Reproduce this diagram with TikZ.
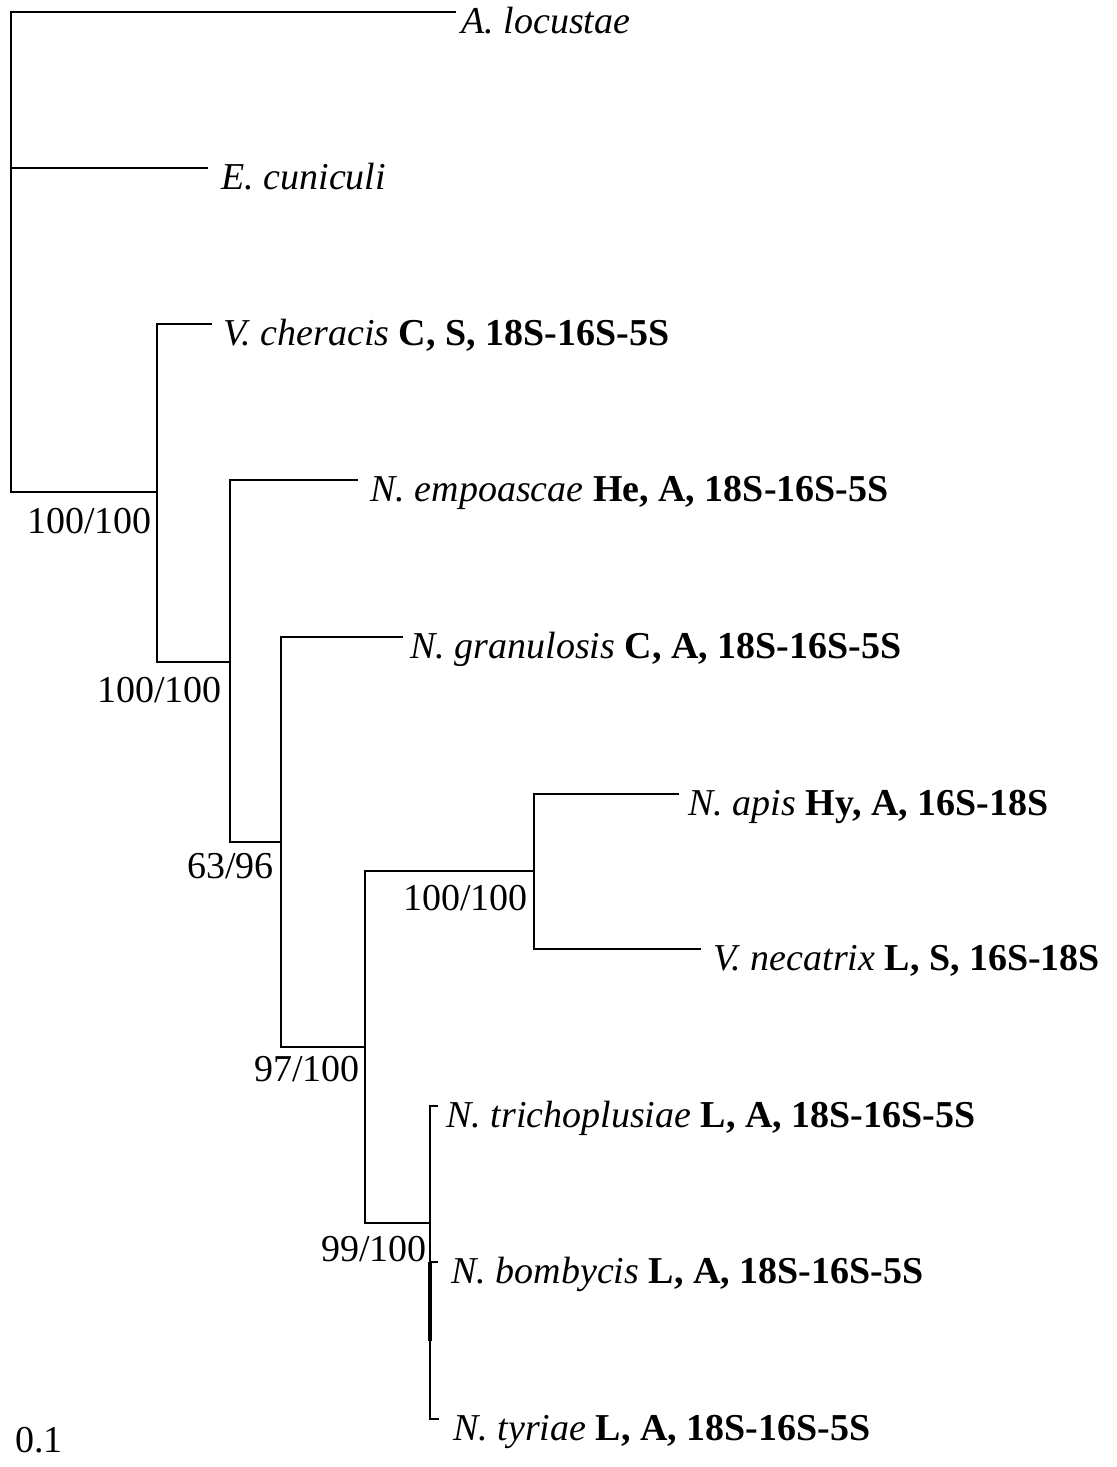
\documentclass[tikz,border=0pt]{standalone}
\usepackage{fontspec}
\setmainfont{Liberation Serif}
\begin{document}
\begin{tikzpicture}[x=0.5pt,y=-0.5pt,
  branch/.style={line width=1pt, line cap=rect},
  leaf/.style={anchor=base west, inner sep=0pt, font=\fontsize{19}{22}\selectfont},
  support/.style={anchor=base east, inner sep=0pt, font=\fontsize{19}{22}\selectfont}]
\useasboundingbox (0,0) rectangle (1117,1467);
% internal nodes
\coordinate (r) at (11,492);
\coordinate (n1) at (157,492);
\coordinate (n2) at (230,662);
\coordinate (n3) at (281,842);
\coordinate (n4) at (365,1047);
\coordinate (n5) at (534,871);
\coordinate (n6) at (430,1223);
% tips
\coordinate (tA) at (455,12);
\coordinate (tE) at (207,168);
\coordinate (tV) at (211,324);
\coordinate (tNe) at (357,480);
\coordinate (tNg) at (402,637);
\coordinate (tAp) at (678,794);
\coordinate (tNc) at (700,949);
\coordinate (tTr) at (437,1106);
\coordinate (tBo) at (437,1262);
\coordinate (bEnd) at (430,1341);
\coordinate (tTy) at (438,1419);
% branches
\draw[branch] (tA) -| (r) -- (n1);
\draw[branch] (r |- tE) -- (tE);
\draw[branch] (tV) -| (n1 |- n2) -- (n2);
\draw[branch] (tNe) -| (n2 |- n3) -- (n3);
\draw[branch] (tNg) -| (n3 |- n4) -- (n4);
\draw[branch] (n5) -| (n4 |- n6) -- (n6);
\draw[branch] (tAp) -| (n5 |- tNc) -- (tNc);
\draw[branch] (tTr) -| (n6 |- tTy) -- (tTy);
\draw[branch] (n6 |- tBo) -- (tBo);
\draw[line width=2.3pt] (n6 |- tBo) -- (bEnd);
% leaf labels
\node[leaf] (lA) at (461,33) {\textit{A. locustae}};
\node[leaf] (lE) at (221,189) {\textit{E. cuniculi}};
\node[leaf] (lV) at (223,345) {\textit{V. cheracis} \textbf{C, S, 18S-16S-5S}};
\node[leaf] (lNe) at (370,501) {\textit{N. empoascae} \textbf{He, A, 18S-16S-5S}};
\node[leaf] (lNg) at (410,658) {\textit{N. granulosis} \textbf{C, A, 18S-16S-5S}};
\node[leaf] (lAp) at (688,815) {\textit{N. apis} \textbf{Hy, A, 16S-18S}};
\node[leaf] (lNc) at (713,970) {\textit{V. necatrix} \textbf{L, S, 16S-18S}};
\node[leaf] (lTr) at (446,1127) {\textit{N. trichoplusiae} \textbf{L, A, 18S-16S-5S}};
\node[leaf] (lBo) at (451,1283) {\textit{N. bombycis} \textbf{L, A, 18S-16S-5S}};
\node[leaf] (lTy) at (453,1440) {\textit{N. tyriae} \textbf{L, A, 18S-16S-5S}};
% support values
\node[support] (s1) at (152,533) {100/100};
\node[support] (s2) at (222,702) {100/100};
\node[support] (s3) at (274,878) {63/96};
\node[support] (s5) at (528,910) {100/100};
\node[support] (s4) at (360,1081) {97/100};
\node[support] (s6) at (427,1261) {99/100};
\node[leaf] (scale) at (15,1452) {0.1};
\end{tikzpicture}
\end{document}
